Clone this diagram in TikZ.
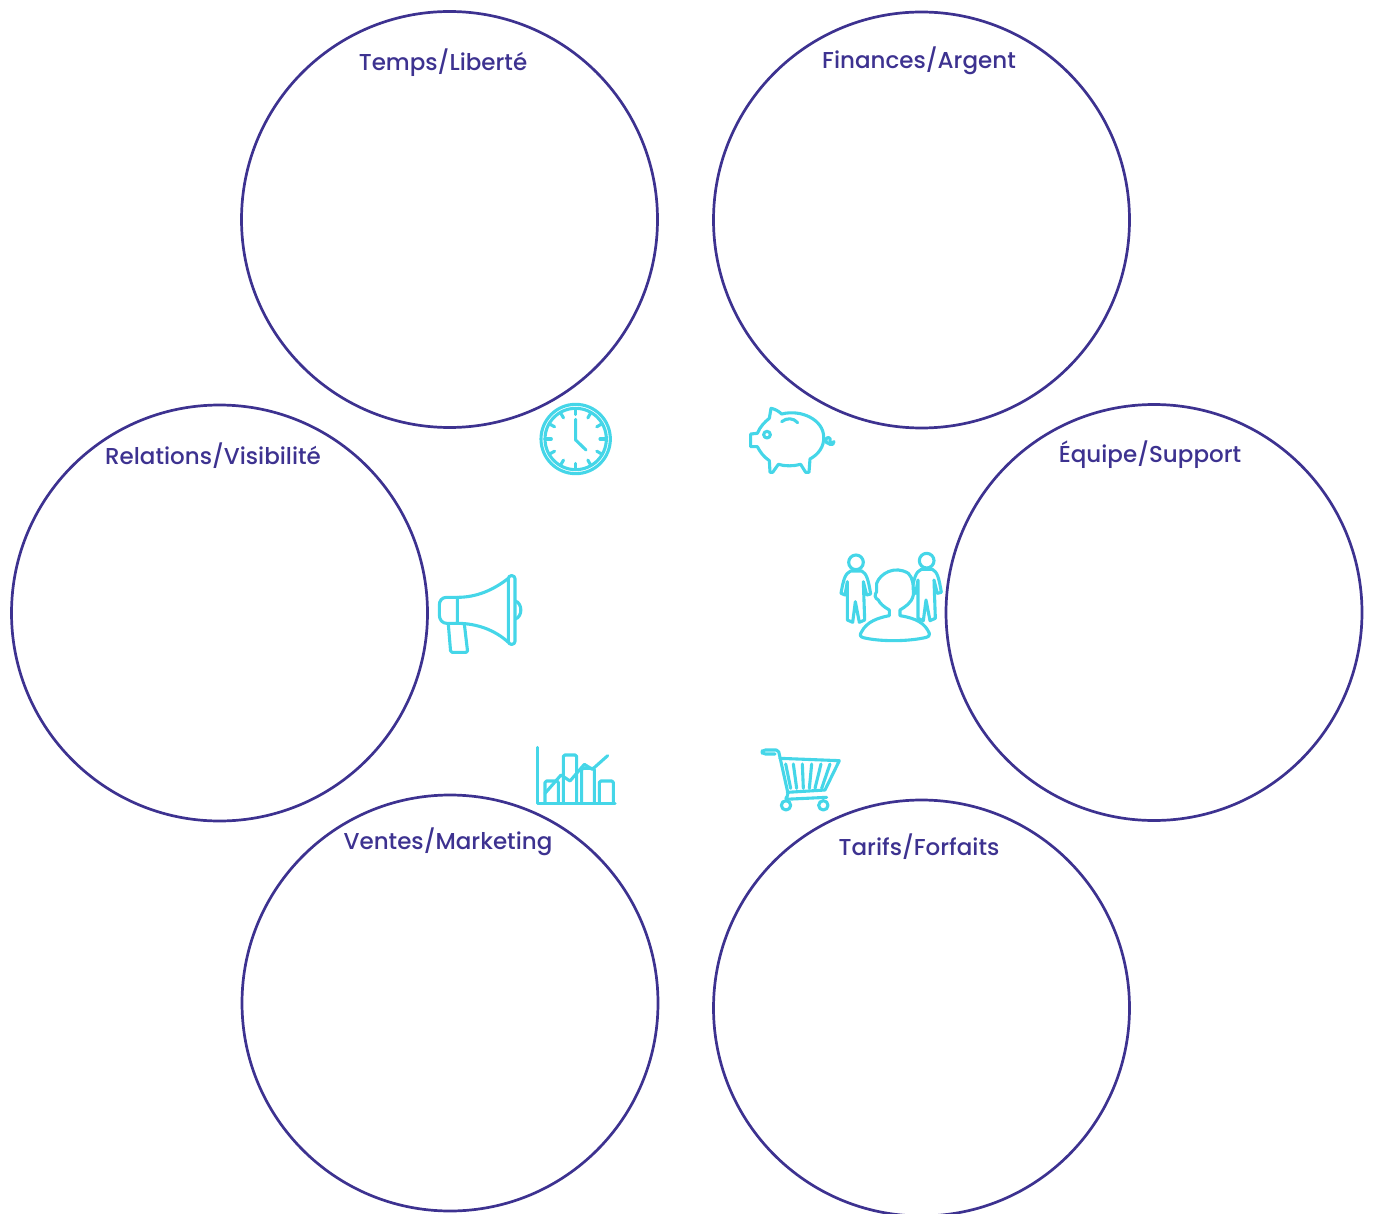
\documentclass[tikz,border=0pt]{standalone}
\usepackage{fontspec}
\setmainfont{Poppins Medium}
\definecolor{ringcol}{HTML}{3D3290}
\definecolor{iconcol}{HTML}{45D6E8}
\tikzset{
  bubble/.style={circle,draw=ringcol,line width=2.7pt,minimum size=416pt,inner sep=0pt},
  bubbletitle/.style={text=ringcol,font=\fontsize{23}{28}\selectfont,inner sep=0pt},
  iconline/.style={draw=iconcol,line width=3.1pt,line cap=round,line join=round},
  iconat/.style={shift={#1},scale=1/3}
}
\begin{document}
\begin{tikzpicture}[x=1pt,y=-1pt]
  \useasboundingbox (0,0) rectangle (1373,1214);
  \node[bubble] (temps) at (449.5,219.5) {};
  \node[bubble] (finances) at (921.5,220) {};
  \node[bubble] (relations) at (219.5,613) {};
  \node[bubble] (equipe) at (1154,612.5) {};
  \node[bubble] (ventes) at (450,1003) {};
  \node[bubble] (tarifs) at (921.5,1008) {};
  \node[bubbletitle] (tempslabel) at (443,62.5) {Temps/Liberté};
  \node[bubbletitle] (financeslabel) at (919,60.5) {Finances/Argent};
  \node[bubbletitle] (relationslabel) at (213,455.5) {Relations/Visibilité};
  \node[bubbletitle] (equipelabel) at (1150,454.5) {Équipe/Support};
  \node[bubbletitle] (venteslabel) at (448,841.5) {Ventes/Marketing};
  \node[bubbletitle] (tarifslabel) at (919,846.5) {Tarifs/Forfaits};
  % clock
  \begin{scope}[iconat={(520,390)},iconline]
    \draw (167,147) circle (104);
    \draw (167,147) circle (92);
    \foreach \a in {0,30,...,330}
      \draw (167,147)++(\a:92) -- ++(\a:-19);
    \draw (167,88) -- (167,150) -- (198,180);
  \end{scope}
  % piggy bank
  \begin{scope}[iconat={(735,395)},iconline]
    \draw (103,70) -- (108,40) .. controls (120,42) and (130,48) .. (140,57)
      .. controls (200,42) and (265,75) .. (266,125)
      .. controls (268,155) and (250,178) .. (225,192) -- (222,232) -- (212,232) -- (197,208)
      .. controls (175,214) and (150,214) .. (130,208) -- (113,232) -- (105,232) -- (103,197)
      .. controls (85,185) and (75,170) .. (67,155) -- (47,155) -- (47,117) -- (67,115)
      .. controls (75,95) and (90,80) .. (103,70);
    \draw (96,119) circle (10);
    \draw (140,80) .. controls (155,68) and (175,68) .. (188,83);
    \draw (268,130) .. controls (275,150) and (297,155) .. (297,140)
      .. controls (290,147) and (272,150) .. (272,135) .. controls (275,122) and (290,128) .. (285,138);
  \end{scope}
  % team
  \begin{scope}[iconat={(830,545)},iconline]
    \foreach \dx/\dy in {0/0,212/-5}{
      \begin{scope}[shift={(\dx,\dy)}]
        \draw (78,52) circle (22);
        \draw (62,78) .. controls (45,85) and (40,105) .. (33,145) -- (45,150) -- (52,110) -- (52,225)
          -- (68,232) -- (76,170) -- (88,232) -- (104,225) -- (100,110) -- (110,150) -- (122,147)
          .. controls (115,105) and (110,85) .. (95,78) -- cycle;
      \end{scope}
    }
    \draw[fill=white] (178,212) -- (178,195) .. controls (160,185) and (150,175) .. (145,165)
      .. controls (135,160) and (132,150) .. (140,140) -- (140,115)
      .. controls (150,85) and (195,60) .. (235,85) .. controls (250,100) and (250,120) .. (250,150)
      .. controls (245,175) and (225,185) .. (210,195) -- (210,212)
      .. controls (260,220) and (285,235) .. (298,265) .. controls (298,275) and (295,275) .. (285,278)
      .. controls (230,290) and (150,290) .. (100,278) .. controls (90,275) and (88,270) .. (95,260)
      .. controls (110,230) and (145,218) .. (178,212) -- cycle;
  \end{scope}
  % megaphone
  \begin{scope}[iconat={(430,565)},iconline]
    \draw (82,97) -- (50,97) .. controls (35,97) and (28,108) .. (28,120) -- (28,150)
      .. controls (28,165) and (38,175) .. (50,175) -- (82,175) -- cycle;
    \draw (82,97) .. controls (140,97) and (190,75) .. (235,40);
    \draw (82,175) .. controls (140,175) and (195,195) .. (235,232);
    \draw[rounded corners=3pt] (235,32) rectangle (255,238);
    \draw (256,108) .. controls (278,115) and (278,155) .. (256,162);
    \draw[rounded corners=1.5pt] (55,178) -- (62,262) -- (113,262) -- (103,177);
  \end{scope}
  % chart
  \begin{scope}[iconat={(525,735)},iconline]
    \draw (37,37) -- (37,205) -- (270,205);
    \draw[rounded corners=1.5pt] (60,205) -- (60,138) -- (100,138) -- (100,205);
    \draw[rounded corners=1.5pt] (115,205) -- (115,60) -- (155,60) -- (155,205);
    \draw[rounded corners=1.5pt] (170,205) -- (170,100) -- (208,100) -- (208,205);
    \draw[rounded corners=1.5pt] (223,205) -- (223,138) -- (265,138) -- (265,205);
    \draw (60,175) -- (108,120) -- (135,138) -- (178,88) -- (202,103) -- (248,62);
  \end{scope}
  % cart
  \begin{scope}[iconat={(750,740)},iconline]
    \draw[rounded corners=2pt] (75,42) -- (40,42) -- (34,36) -- (40,30) -- (85,30) -- (115,165) -- (105,178) -- (230,172);
    \draw (90,55) -- (268,62) -- (225,150) -- (112,157);
    \foreach \xa/\xb in {107/122,130/140,157/160,185/178,213/195,240/215}
      \draw (\xa,72) -- (\xb,145);
    \draw (108,196) circle (14);
    \draw (220,196) circle (14);
  \end{scope}
\end{tikzpicture}
\end{document}
